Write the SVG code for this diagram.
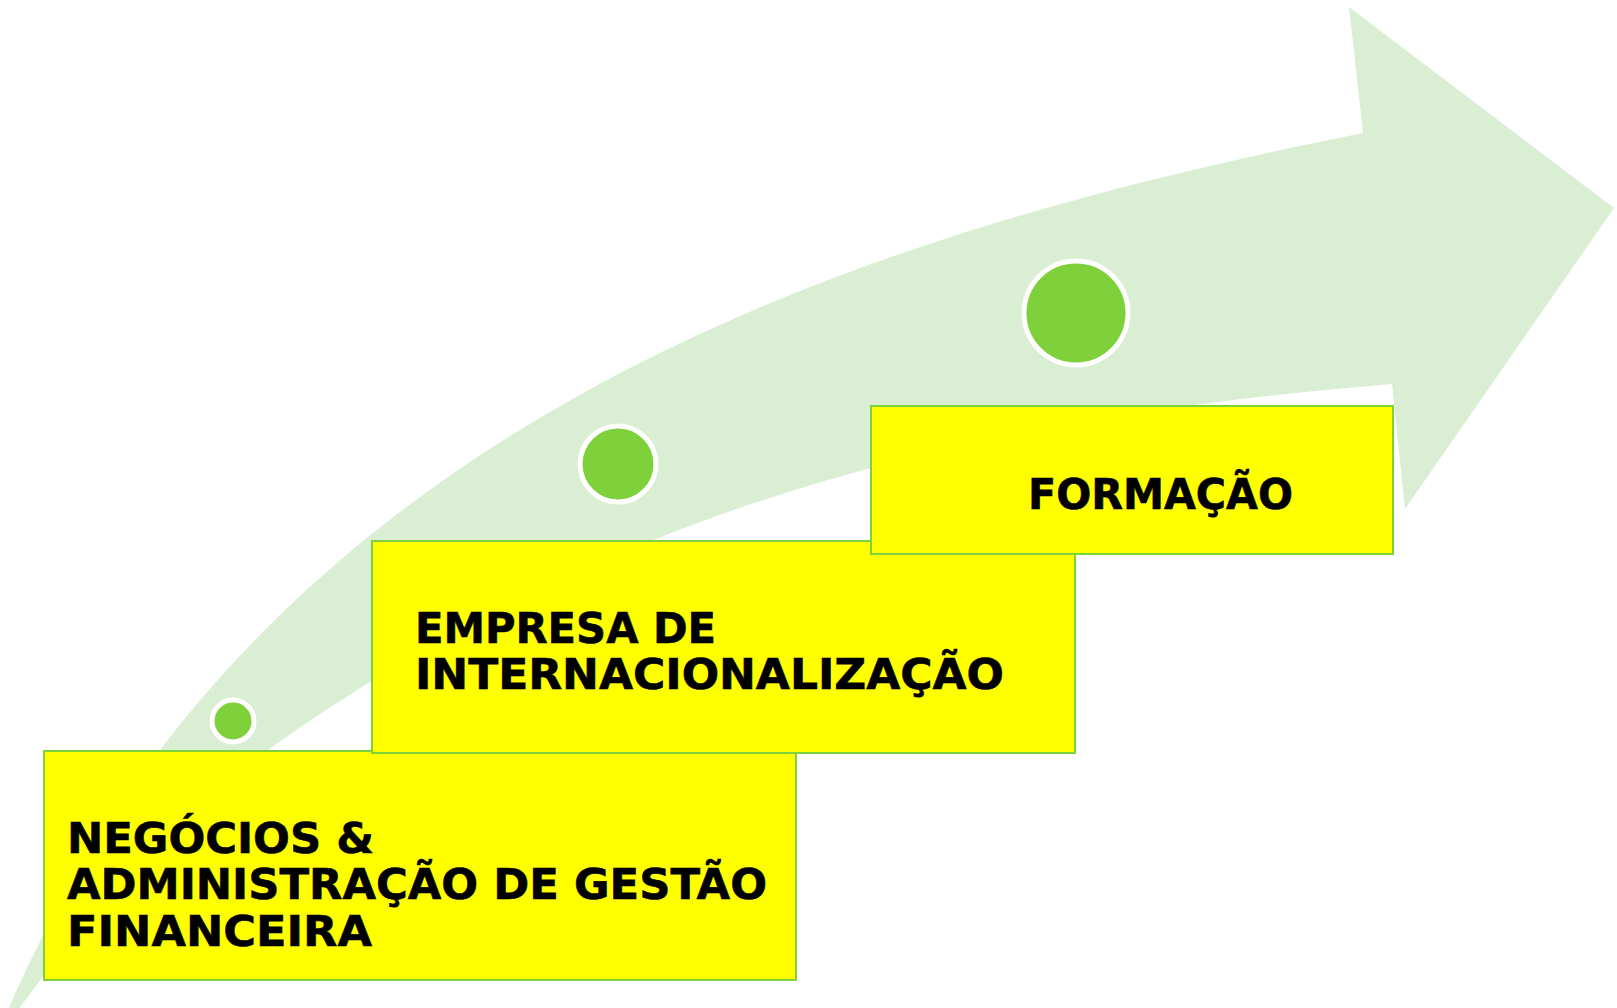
<svg xmlns="http://www.w3.org/2000/svg" width="1617" height="1008" viewBox="0 0 1617 1008">
  <style>
    .bg { fill: #FFFFFF; }
    .arrow { fill: #DAEED3; stroke: none; }
    .dot { fill: #7FD13B; stroke: #FFFFFF; stroke-width: 5; }
    .box { fill: #FFFF00; stroke: #7FD13B; stroke-width: 2; }
    .label { font-family: "DejaVu Sans", Verdana, sans-serif; font-weight: bold; font-size: 43px; fill: #000000; stroke: #000000; stroke-width: 0.6; }
  </style>
  <rect class="bg" x="0" y="0" width="1617" height="1008"/>
  <g id="arrow">
    <path class="arrow" d="M 8 1010 C 268 409 883 229 1363 133 L 1349 7 L 1614 208 L 1405 509 L 1392 384 C 1344.7 388.3 1297.3 392.3 1250 398 C 1052 421.8 854 459.8 656 539 C 526.7 590.7 397.3 656.9 268 750 C 184 815.5 100 899 18 1010 Z"/>
  </g>
  <g id="dot-1">
    <circle class="dot" cx="233" cy="721" r="21"/>
  </g>
  <g id="dot-2">
    <circle class="dot" cx="618" cy="464" r="38"/>
  </g>
  <g id="dot-3">
    <circle class="dot" cx="1076" cy="313" r="52"/>
  </g>
  <g id="node-negocios">
    <rect class="box" x="44" y="751" width="752" height="229"/>
    <text class="label" x="67" y="853" textLength="307" lengthAdjust="spacingAndGlyphs">NEGÓCIOS &amp;</text>
    <text class="label" x="67" y="899" textLength="700" lengthAdjust="spacingAndGlyphs">ADMINISTRAÇÃO DE GESTÃO</text>
    <text class="label" x="67" y="946" textLength="305" lengthAdjust="spacingAndGlyphs">FINANCEIRA</text>
  </g>
  <g id="node-empresa">
    <rect class="box" x="372" y="541" width="703" height="212"/>
    <text class="label" x="415" y="643" textLength="301" lengthAdjust="spacingAndGlyphs">EMPRESA DE</text>
    <text class="label" x="415" y="689" textLength="589" lengthAdjust="spacingAndGlyphs">INTERNACIONALIZAÇÃO</text>
  </g>
  <g id="node-formacao">
    <rect class="box" x="871" y="406" width="522" height="148"/>
    <text class="label" x="1028" y="509" textLength="265" lengthAdjust="spacingAndGlyphs">FORMAÇÃO</text>
  </g>
</svg>
